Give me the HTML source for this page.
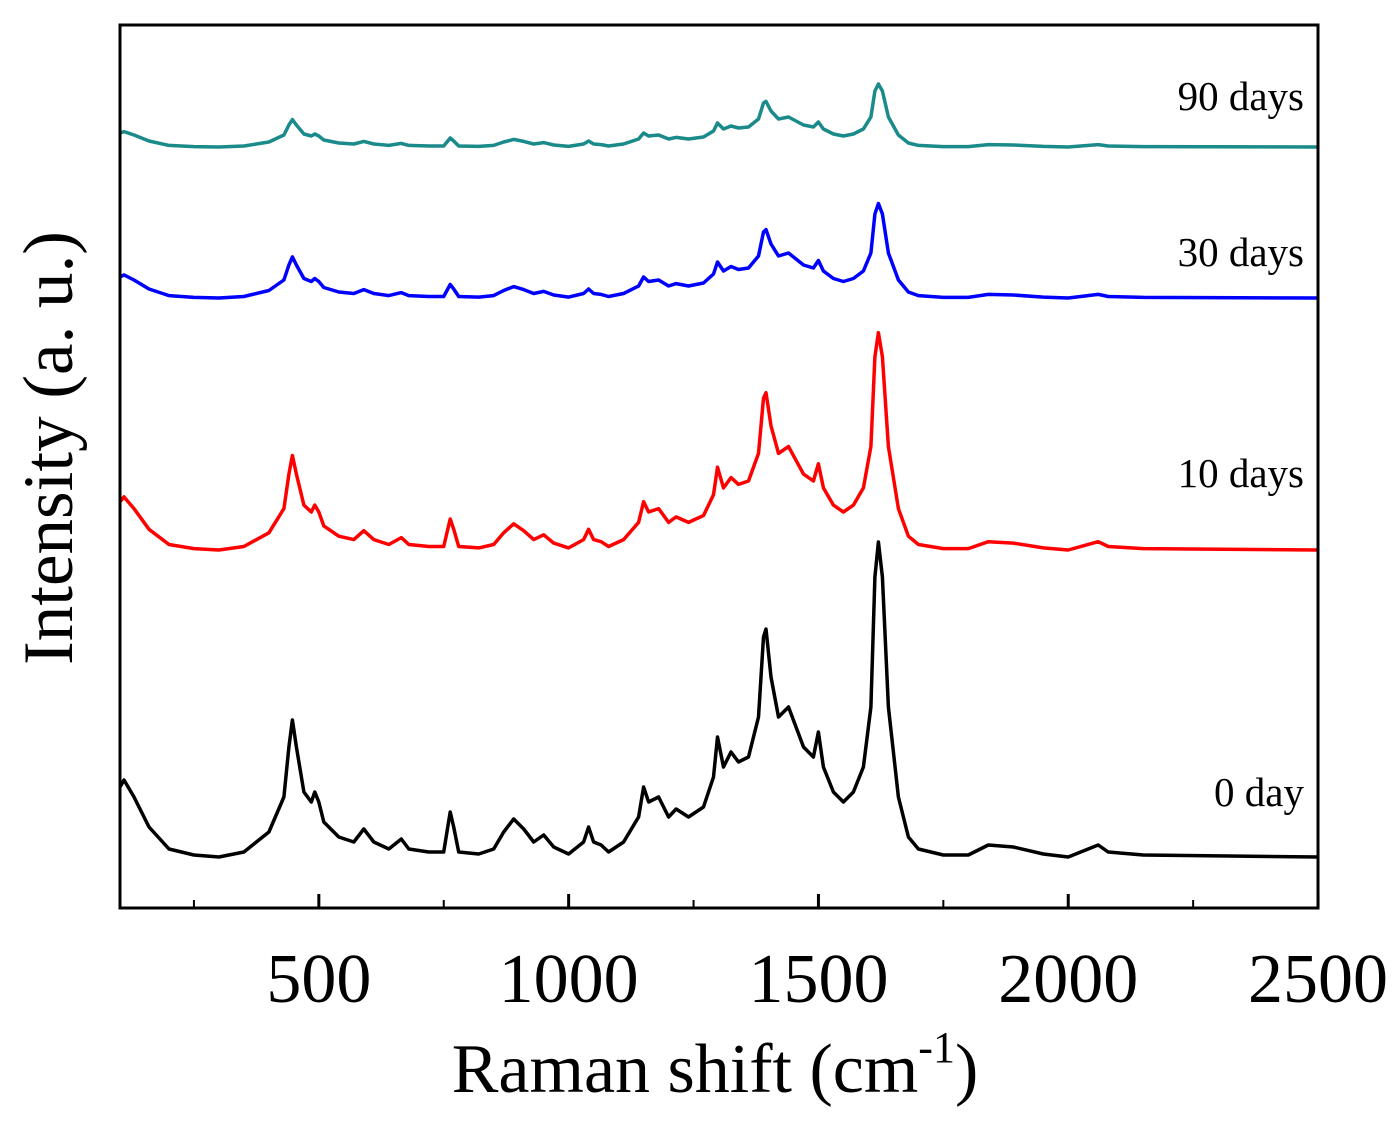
<!DOCTYPE html>
<html><head><meta charset="utf-8"><style>
body{margin:0;background:#fff}
svg text{font-family:"Liberation Serif",serif;fill:#000}
</style></head><body>
<svg id="chart" width="1398" height="1123" viewBox="0 0 1398 1123" xmlns="http://www.w3.org/2000/svg">
<g id="plot"></g>
<rect x="120" y="25" width="1198" height="883" fill="none" stroke="#000" stroke-width="3"/>
<g id="ticks"></g>
<text x="715" y="1092" font-size="70" text-anchor="middle">Raman shift (cm<tspan dy="-30" font-size="44">-1</tspan><tspan dy="30">)</tspan></text>
<text transform="translate(72,448) rotate(-90)" font-size="71" text-anchor="middle">Intensity (a. u.)</text>
<g id="labels"></g>
</svg>
<script>
const wavenumbers=[102,110,130,160,200,250,300,350,400,430,440,447,455,470,485,492,500,510,540,570,590,610,640,665,680,720,750,763,770,780,820,850,870,890,910,930,950,970,1000,1030,1040,1050,1065,1080,1110,1140,1150,1160,1180,1200,1215,1240,1270,1290,1298,1310,1325,1340,1360,1380,1390,1395,1405,1420,1440,1455,1470,1490,1500,1510,1530,1550,1570,1590,1605,1613,1620,1628,1640,1660,1680,1700,1750,1800,1840,1890,1950,2000,2060,2080,2150,2500];
const shape=[70,77,60,30,8,2,0,5,25,60,110,137,110,65,55,65,55,35,20,15,28,15,8,18,8,5,5,45,30,5,3,8,25,38,28,15,22,10,3,15,30,15,12,5,15,40,70,55,60,40,48,40,50,80,120,90,105,95,100,140,220,228,180,140,150,130,110,100,125,90,65,55,65,90,150,280,315,280,150,60,20,8,2,2,12,10,3,0,12,5,2,0];
const seriesNames=["0 day","10 days","30 days","90 days"];
const seriesScale=[1,0.69,0.3,0.2];
const seriesBaseline=[51,358,610,761];
const seriesColors=["#000","#ff0000","#0000ff","#1a8a8a"];
const labelValues=[115,434,655,811];
const xTicks=[500,1000,1500,2000,2500];
const xMinor=[250,750,1250,1750,2250];
const X=v=>120+(v-102)*0.4996;
const Y=v=>908-v;
const ns="http://www.w3.org/2000/svg";
const plot=document.getElementById('plot');
seriesNames.forEach((n,i)=>{
  const p=document.createElementNS(ns,'path');
  let d=wavenumbers.map((w,k)=>(k?'L':'M')+X(w).toFixed(1)+','+Y(seriesBaseline[i]+shape[k]*seriesScale[i]).toFixed(1)).join('');
  p.setAttribute('d',d);p.setAttribute('fill','none');p.setAttribute('stroke',seriesColors[i]);p.setAttribute('stroke-width','3.5');p.setAttribute('stroke-linejoin','round');
  
  
  plot.appendChild(p);
  const t=document.createElementNS(ns,'text');
  t.setAttribute('x',1304);t.setAttribute('y',Y(labelValues[i])+13);t.setAttribute('text-anchor','end');t.setAttribute('font-size','41');
  t.textContent=n;
  
  
  document.getElementById('labels').appendChild(t);
});
const tg=document.getElementById('ticks');
xTicks.forEach(v=>{
  const l=document.createElementNS(ns,'line');
  l.setAttribute('x1',X(v));l.setAttribute('x2',X(v));l.setAttribute('y1',908);l.setAttribute('y2',894);l.setAttribute('stroke','#000');l.setAttribute('stroke-width','3');
  
  
  tg.appendChild(l);
  const t=document.createElementNS(ns,'text');
  t.setAttribute('x',X(v));t.setAttribute('y',1002);t.setAttribute('text-anchor','middle');t.setAttribute('font-size','70');
  t.textContent=v;
  
  
  tg.appendChild(t);
});
xMinor.forEach(v=>{
  const l=document.createElementNS(ns,'line');
  l.setAttribute('x1',X(v));l.setAttribute('x2',X(v));l.setAttribute('y1',908);l.setAttribute('y2',900);l.setAttribute('stroke','#000');l.setAttribute('stroke-width','2');
  
  
  tg.appendChild(l);
});
</script>
</body></html>
